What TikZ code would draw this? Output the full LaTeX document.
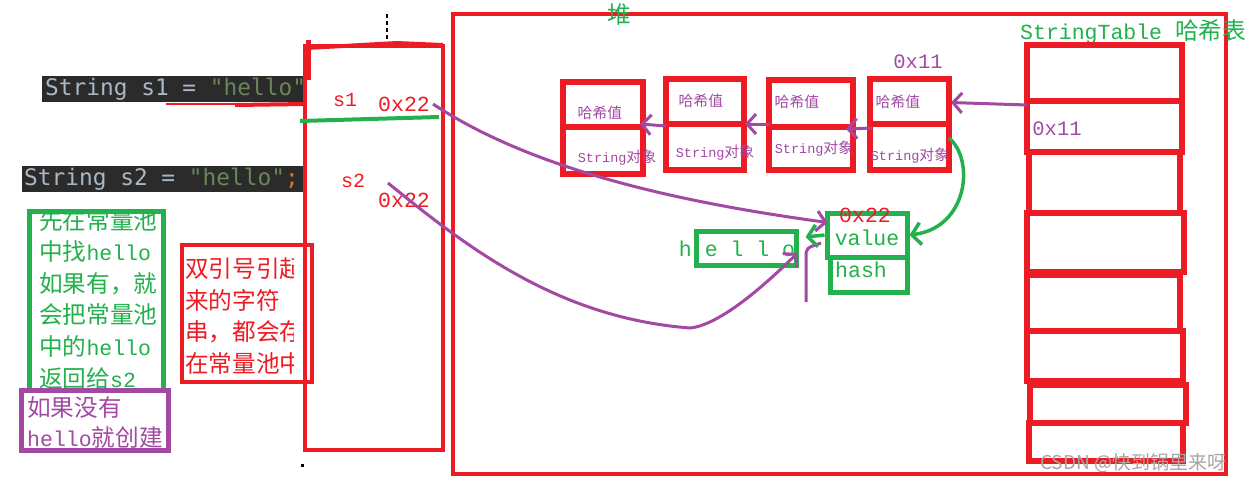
\documentclass[tikz,border=0pt]{standalone}
\usepackage{fontspec}
\setmainfont{Liberation Mono}
\newfontfamily\cjk[Scale=1.1]{Noto Sans CJK SC}
\newfontfamily\codefont{DejaVu Sans Mono}
\newfontfamily\wmfont{Noto Sans CJK SC}
\usetikzlibrary{arrows.meta,calc}
\definecolor{pred}{HTML}{ED1C24}
\definecolor{pgreen}{HTML}{22B14C}
\definecolor{ppurple}{HTML}{A349A4}
\definecolor{codebg}{HTML}{2B2B2B}
\definecolor{codefg}{HTML}{A9B7C6}
\definecolor{codestr}{HTML}{6A8759}
\definecolor{codesemi}{HTML}{CC7832}
\newcommand\zh[1]{{\cjk #1}}
\begin{document}
\begin{tikzpicture}[x=1pt,y=-1pt,
  rbox/.style={draw=pred, line width=4.5, inner sep=0},
  gbox/.style={draw=pgreen, line width=5, inner sep=0},
  pbox/.style={draw=ppurple, line width=5, inner sep=0},
  hcell/.style={draw=pred, line width=6, inner sep=0},
  trow/.style={draw=pred, line width=6, inner sep=0},
  big/.style={font=\fontsize{21.5}{31.6}\selectfont, inner sep=0},
  small/.style={font=\fontsize{13.5}{15}\selectfont, inner sep=0, text=ppurple},
  codebox/.style={fill=codebg, inner sep=0, minimum height=26},
  codetxt/.style={font=\codefont\fontsize{22.8}{26}\selectfont, inner sep=0, anchor=west, text=codefg},
  parr/.style={draw=ppurple, line width=3, -{Straight Barb[length=9pt,width=20pt]}},
  garr/.style={draw=pgreen, line width=3.5, -{Straight Barb[length=9pt,width=22pt]}},
]
\useasboundingbox (0,0) rectangle (1247,483);
\fill[white] (0,0) rectangle (1247,483);

% code lines
\node[codebox, minimum width=263] (cbg1) at (173.5,89) {};
\node[codebox, minimum width=285] (cbg2) at (164.5,179) {};
\node[codetxt] (code1) at (45,89) {String s1 = \textcolor{codestr}{"hello"}};
\node[codetxt] (code2) at (24,179) {String s2 = \textcolor{codestr}{"hello"}\textcolor{codesemi}{;}};
\draw[pred, line width=2] (166,104) -- (235,104);
\draw[pred, line width=4] (235,105) -- (305,104);

% left explanation boxes
\begin{scope}
\clip (182,245) rectangle (293,382);
\node[big, text=pred, align=left, anchor=north west] (rtext) at (185,257.5)
  {\zh{双引号引起}\\\zh{来的字符}\\\zh{串，都会存}\\\zh{在常量池中}};
\end{scope}
\node[rbox, minimum width=130, minimum height=137] (rleft) at (247,313.5) {};
\node[big, text=pgreen, align=left, anchor=north west] (gtext) at (39,209)
  {\zh{先在常量池}\\\zh{中找}hello\\\zh{如果有，就}\\\zh{会把常量池}\\\zh{中的}hello\\\zh{返回给}s2};
\node[gbox, minimum width=134, minimum height=179] (gleft) at (96,300.5) {};
\node[big, text=ppurple, align=left, anchor=north west, font=\fontsize{21.5}{30}\selectfont] (ptext) at (27,396.5)
  {\zh{如果没有}\\hello\zh{就创建}};
\node[pbox, minimum width=147, minimum height=60] (pleft) at (94.5,420) {};

% stack
\node[rbox, minimum width=138, minimum height=404] (stack) at (374,248) {};
\draw[pred, line width=5] (308,40) -- (308,80);
\draw[pred, line width=4] (307,48) -- (397,43) -- (443,45);
\draw[black, line width=1.5, dash pattern=on 4pt off 3pt] (387,14) -- (387,40);
\draw[pgreen, line width=4] (300,121) -- (439,117);
\node[big, text=pred, font=\fontsize{20}{22}\selectfont] (s1) at (345,100) {s1};
\node[big, text=pred] (s1addr) at (404,104) {0x22};
\node[big, text=pred, font=\fontsize{20}{22}\selectfont] (s2) at (353,181) {s2};
\node[big, text=pred] (s2addr) at (404,200) {0x22};
\fill[black] (300.5,463.5) rectangle (303.5,466.5);

% heap
\node[rbox, minimum width=773, minimum height=460] (heap) at (839.5,244) {};
\node[big, text=pgreen] (heaplbl) at (619,15) {\zh{堆}};

% hash entries
\node[hcell, minimum width=80, minimum height=45] (h1) at (603,104.5) {};
\node[hcell, minimum width=80, minimum height=47] (o1) at (603,150.5) {};
\node[hcell, minimum width=78, minimum height=45] (h2) at (705,101.5) {};
\node[hcell, minimum width=78, minimum height=46] (o2) at (705,147) {};
\node[hcell, minimum width=84, minimum height=47] (h3) at (811,103.5) {};
\node[hcell, minimum width=84, minimum height=43] (o3) at (811,148.5) {};
\node[hcell, minimum width=79, minimum height=45] (h4) at (909.5,101.5) {};
\node[hcell, minimum width=79, minimum height=46] (o4) at (909.5,147) {};
\node[small] (h1t) at (600,113) {\zh{哈希值}};
\node[small] (o1t) at (617,158) {String\zh{对象}};
\node[small] (h2t) at (701,101) {\zh{哈希值}};
\node[small] (o2t) at (715,153) {String\zh{对象}};
\node[small] (h3t) at (797,102) {\zh{哈希值}};
\node[small] (o3t) at (814,149) {String\zh{对象}};
\node[small] (h4t) at (898,102) {\zh{哈希值}};
\node[small] (o4t) at (910,156) {String\zh{对象}};
\node[big, text=ppurple, font=\fontsize{20.5}{22}\selectfont] (addr11) at (918,62) {0x11};

% string object
\node[gbox, minimum width=80, minimum height=44] (value) at (867,235) {};
\node[gbox, minimum width=77, minimum height=35] (hashc) at (868.5,274.5) {};
\node[gbox, minimum width=100, minimum height=34] (hello) at (746,248) {};
\node[big, text=pred] (addr22) at (865,215) {0x22};
\node[big, text=pgreen] (valuet) at (867,238) {value};
\node[big, text=pgreen] (hasht) at (861,270) {hash};
\node[big, text=pgreen] (hellot) at (737,249) {h e l l o};

% string table
\node[big, text=pgreen, anchor=west] (sttitle) at (1020,32) {StringTable \zh{哈希表}};
\node[trow, minimum width=155, minimum height=56] (t1) at (1104.5,73) {};
\node[trow, minimum width=155, minimum height=51] (t2) at (1104.5,126.5) {};
\node[trow, minimum width=151, minimum height=61] (t3) at (1104.5,182.5) {};
\node[trow, minimum width=157, minimum height=59] (t4) at (1105.5,242.5) {};
\node[trow, minimum width=153, minimum height=56] (t5) at (1103.5,303) {};
\node[trow, minimum width=156, minimum height=50] (t6) at (1105,356) {};
\node[trow, minimum width=156, minimum height=38] (t7) at (1108,404) {};
\node[trow, minimum width=154, minimum height=38] (t8) at (1106,442) {};
\node[big, text=ppurple, font=\fontsize{20.5}{22}\selectfont] (t2addr) at (1057,129) {0x11};

% connectors
\draw[parr] ($(o2.north west)+(3,5)$) -- ($(o1.north east)+(-6,0)$);
\draw[parr] ($(o3.north west)+(4,0)$) -- ($(o2.north east)+(-2,3)$);
\draw[parr] ($(o4.north west)+(5,7)$) -- ($(o3.north east)+(-10,5)$);
\draw[parr] ($(t2.north west)+(3,7)$) -- ($(h4.east)+(-1,1)$);
\draw[parr] ($(s1addr.east)+(3,0)$) .. controls (540,175) and (700,205) .. ($(value.north west)+(3,12)$);
\coordinate (s2start) at (388,183);
\draw[parr] (s2start) .. controls (470,250) and (560,318) .. (690,328)
  .. controls (720,325) and (765,285) .. ($(hello.east)+(-1,5)$);
\coordinate (pk1) at (806,302);
\coordinate (pk2) at (821,243);
\draw[ppurple, line width=3] (pk1) -- (806,258) .. controls (806,248) .. (pk2);
\draw[garr] (value.west) -- ($(hello.east)+(7,-11)$);
\draw[garr] ($(o4.east)+(-3,-9)$) .. controls (975,160) and (968,228) .. (value.east);

% watermark
\node[font=\wmfont\fontsize{19}{21}\selectfont, text=gray!70, anchor=west, inner sep=0] (wm) at (1040,463) {CSDN @快到锅里来呀};
\end{tikzpicture}
\end{document}
